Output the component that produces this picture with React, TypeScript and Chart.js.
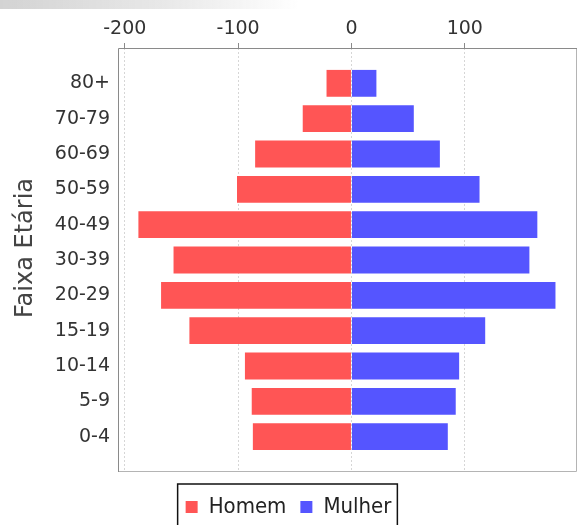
import { useEffect, useRef } from 'react';
import { Chart, registerables } from 'chart.js';

Chart.register(...registerables);

const faixas = ['80+', '70-79', '60-69', '50-59', '40-49', '30-39', '20-29', '15-19', '10-14', '5-9', '0-4'];
const homem = [-22, -43, -85, -101, -188, -157, -168, -143, -94, -88, -87];
const mulher = [22, 55, 78, 113, 164, 157, 180, 118, 95, 92, 85];
const xTicks = [-200, -100, 0, 100];
const seriesNames = ['Homem', 'Mulher'];
const seriesColors = ['#FF5555', '#5555FF'];
const yTitle = 'Faixa Etária';

const framePlugin = {
  id: 'frameAndTitle',
  afterDraw(chart: any) {
    const { ctx, chartArea: a } = chart;
    ctx.save();
    ctx.lineWidth = 1;
    ctx.strokeStyle = '#b4b4b4';
    ctx.beginPath();
    ctx.moveTo(a.right - 0.5, a.top);
    ctx.lineTo(a.right - 0.5, a.bottom - 0.5);
    ctx.lineTo(a.left, a.bottom - 0.5);
    ctx.stroke();
    ctx.strokeStyle = '#8a8a8a';
    ctx.beginPath();
    ctx.moveTo(a.left + 0.5, a.bottom);
    ctx.lineTo(a.left + 0.5, a.top + 0.5);
    ctx.lineTo(a.right, a.top + 0.5);
    ctx.stroke();
    ctx.save();
    ctx.translate(26, 248);
    ctx.rotate(-Math.PI / 2);
    ctx.font = '24px "DejaVu Sans", sans-serif';
    ctx.fillStyle = '#444';
    ctx.textAlign = 'center';
    ctx.textBaseline = 'middle';
    ctx.fillText(yTitle, 0, 0);
    ctx.restore();
    const lg = chart.legend;
    if (lg && lg.legendHitBoxes && lg.legendHitBoxes.length) {
      const hb = lg.legendHitBoxes;
      const l = Math.min(...hb.map((h: any) => h.left)) - 8;
      const r = Math.max(...hb.map((h: any) => h.left + h.width)) + 6;
      const t = Math.min(...hb.map((h: any) => h.top)) - 12;
      const b = 530;
      ctx.strokeStyle = '#111';
      ctx.lineWidth = 1.5;
      ctx.strokeRect(l, t, r - l, b - t);
    }
    ctx.restore();
  },
};

export default function App() {
  const ref = useRef<HTMLCanvasElement>(null);
  useEffect(() => {
    if (!ref.current) return;
    const chart = new Chart(ref.current, {
      type: 'bar',
      data: {
        datasets: [
          {
            label: seriesNames[0],
            data: homem.map((v, i) => ({ x: v, y: i })),
            backgroundColor: seriesColors[0],
            borderWidth: 0,
            grouped: false,
          },
          {
            label: seriesNames[1],
            data: mulher.map((v, i) => ({ x: v, y: i })),
            backgroundColor: seriesColors[1],
            borderWidth: 0,
            grouped: false,
          },
        ],
      } as any,
      options: {
        indexAxis: 'y',
        animation: false,
        responsive: true,
        maintainAspectRatio: false,
        datasets: { bar: { categoryPercentage: 1, barPercentage: 0.76 } },
        layout: { padding: { left: 0, right: 4, top: 0, bottom: -3 } },
        scales: {
          x: {
            type: 'linear',
            position: 'top',
            min: -206,
            max: 199,
            afterBuildTicks: (s: any) => {
              s.ticks = xTicks.map((v) => ({ value: v }));
            },
            ticks: {
              color: '#333',
              font: { family: '"DejaVu Sans", sans-serif', size: 19 },
              padding: 3,
            },
            grid: {
              color: '#d6d6d6',
              tickColor: '#8a8a8a',
              tickLength: 5,
              tickBorderDash: [],
            },
            border: { display: false, dash: [2, 2] },
            afterFit: (s: any) => {
              s.height = 48;
            },
          },
          y: {
            type: 'linear',
            reverse: true,
            offset: false,
            min: -1,
            max: 11,
            ticks: {
              stepSize: 1,
              autoSkip: false,
              color: '#333',
              font: { family: '"DejaVu Sans", sans-serif', size: 19 },
              padding: 0,
              callback: (v: any) => faixas[v] ?? '',
            },
            grid: { display: false, offset: false },
            border: { display: false },
            afterFit: (s: any) => {
              s.width = 118;
            },
          },
        },
        plugins: {
          legend: {
            position: 'bottom',
            title: { display: true, text: '', font: { size: 10, lineHeight: 1 }, padding: 0 },
            labels: {
              boxWidth: 12,
              boxHeight: 12,
              padding: 14,
              color: '#222',
              font: { family: '"DejaVu Sans Condensed", "Liberation Sans", sans-serif', size: 22 },
            },
          },
          tooltip: { enabled: false },
        },
      } as any,
      plugins: [framePlugin],
    });
    return () => chart.destroy();
  }, []);
  return (
    <div style={{ position: 'fixed', left: 0, top: 0, width: 581, height: 525, background: '#fff' }}>
      <canvas ref={ref} />
      <div
        style={{
          position: 'absolute',
          left: 0,
          top: 0,
          width: 300,
          height: 9,
          background: 'linear-gradient(to right, rgba(175,175,175,0.55), rgba(205,205,205,0.45) 55%, rgba(255,255,255,0))',
          pointerEvents: 'none',
        }}
      />
    </div>
  );
}
